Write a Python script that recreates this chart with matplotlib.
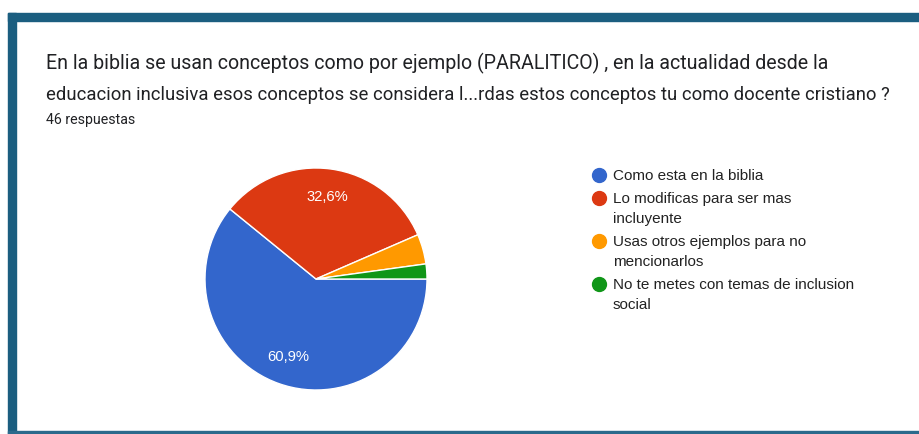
import matplotlib
matplotlib.use("Agg")
import matplotlib.pyplot as plt
from matplotlib.patches import Rectangle

# survey data (46 answers)
labels = ["Como esta en la biblia",
          "Lo modificas para ser mas\nincluyente",
          "Usas otros ejemplos para no\nmencionarlos",
          "No te metes con temas de inclusion\nsocial"]
counts = [28, 15, 2, 1]
colors = ["#3366cc", "#dc3912", "#ff9900", "#109618"]

title_lines = ["En la biblia se usan conceptos como por ejemplo (PARALITICO) , en la actualidad desde la",
               "educacion inclusiva esos conceptos se considera l...rdas estos conceptos tu como docente cristiano ?"]
subtitle = "46 respuestas"

W, H = 920, 434
fig = plt.figure(figsize=(W / 100, H / 100), dpi=100)

# overlay in pixel coords for frame and text
bg = fig.add_axes([0, 0, 1, 1])
bg.set_xlim(0, W)
bg.set_ylim(H, 0)
bg.axis("off")
frame_col = "#1b5e80"
bg.add_patch(Rectangle((8, 13), 8, H - 13, color=frame_col))
bg.add_patch(Rectangle((8, 13), W - 8, 8, color=frame_col))
bg.add_patch(Rectangle((8, 431), W - 8, 3, color="#2b6a8c"))

bg.text(46, 69, title_lines[0], fontsize=14.1, family="Roboto", color="#202124", va="baseline")
bg.text(46, 100, title_lines[1], fontsize=13.35, family="Roboto", color="#202124", va="baseline")
bg.text(46, 124, subtitle, fontsize=10.2, family="Roboto", color="#202124", va="baseline")

# legend, drawn line by line
y = 180
for lab, col in zip(labels, colors):
    bg.plot(599, y - 5, "o", ms=10, color=col)
    for i, line in enumerate(lab.split("\n")):
        bg.text(613, y + i * 20, line, fontsize=11.0, family="Liberation Sans",
                color="#222222", va="baseline")
    y += 20 * len(lab.split("\n")) + 3

# pie
cx, cy, r = 316, 279, 111
ax = fig.add_axes([(cx - r) / W, (H - cy - r) / H, 2 * r / W, 2 * r / H])


def pct(p):
    return ("%.1f%%" % p).replace(".", ",") if p > 10 else ""


wedges, texts, autotexts = ax.pie(counts, colors=colors, startangle=0, counterclock=False,
                                  autopct=pct, pctdistance=0.75,
                                  wedgeprops=dict(edgecolor="white", linewidth=1))
for t in autotexts:
    t.set_color("white")
    t.set_fontsize(10.6)
    t.set_family("Liberation Sans")
ax.set_xlim(-1, 1)
ax.set_ylim(-1, 1)
ax.set_aspect("auto")

fig.savefig("out.png", dpi=100)
